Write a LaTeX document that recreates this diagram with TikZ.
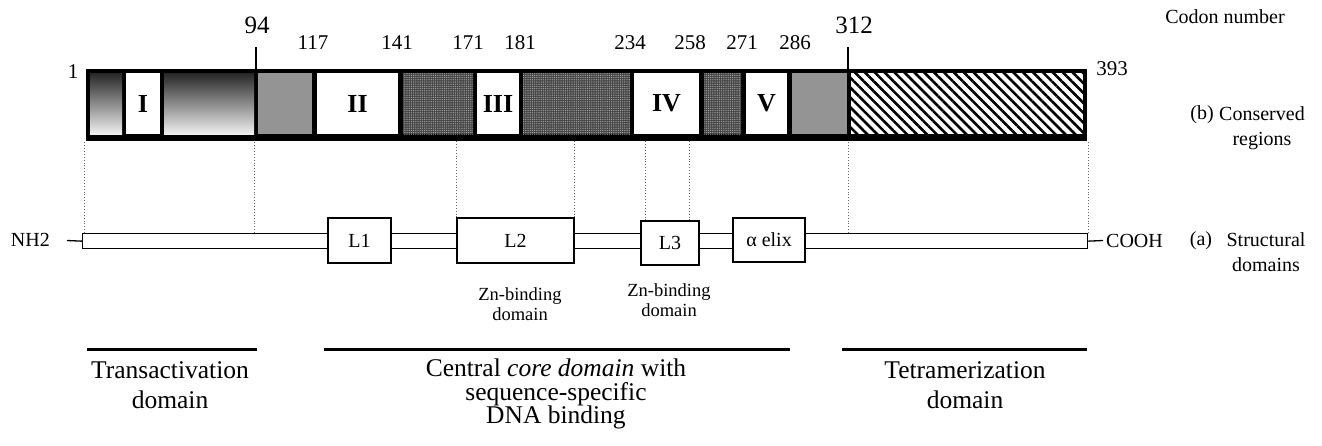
\documentclass[tikz,border=0pt]{standalone}
\usepackage{fontspec}
\setmainfont{Liberation Serif}
\usetikzlibrary{patterns.meta,calc}
\newcommand\fsNum{\fontsize{21}{25}\selectfont}
\newcommand\fsBig{\fontsize{25}{30}\selectfont}
\newcommand\fsRom{\fontsize{26}{30}\selectfont\bfseries}
\newcommand\fsLab{\fontsize{20}{25}\selectfont}
\newcommand\fsZn{\fontsize{18.5}{20}\selectfont}
\newcommand\fsDom{\fontsize{25.5}{30}\selectfont}
\newcommand\fsCen{\fontsize{25.5}{23.5}\selectfont}
\begin{document}
\begin{tikzpicture}[x=1pt,y=-1pt,
 cell/.style={inner sep=0pt, minimum height=61pt, anchor=center, font=\fsRom},
 whitecell/.style={cell, fill=white},
 gradcell/.style={cell, top color=black!85, bottom color=black!6},
 graycell/.style={cell, fill=black!42},
 dotcell/.style={cell, preaction={fill=black!72}, pattern={Dots[radius=0.6pt,distance=2.2pt]}, pattern color=white!70!black},
 hatchcell/.style={cell, preaction={fill=white}, pattern={Lines[angle=-45,distance=7pt,line width=2.6pt]}, pattern color=black},
 sbox/.style={draw, line width=1.3pt, fill=white, inner sep=0pt, minimum height=44pt, font=\fsLab},
 guide/.style={dotted, line width=0.9pt, black!60},
 dline/.style={line width=3pt},
 thin/.style={line width=1.3pt},
 num/.style={font=\fsNum, inner sep=0pt},
 bignum/.style={font=\fsBig, inner sep=0pt},
 lab/.style={font=\fsLab, inner sep=0pt},
]
\useasboundingbox (0,0) rectangle (1322,445);

% conserved regions bar
\node[fill=black, inner sep=0pt, minimum width=1001pt, minimum height=72pt, anchor=north west] (bar) at (86,69) {};
\node[gradcell, minimum width=32pt] (g1) at (106,103.5) {};
\node[whitecell, minimum width=34pt] (r1) at (143,103.5) {I};
\node[gradcell, minimum width=90pt] (g2) at (209,103.5) {};
\node[graycell, minimum width=54pt] (gr1) at (285,103.5) {};
\node[whitecell, minimum width=81pt] (r2) at (357.5,103.5) {II};
\node[dotcell, minimum width=70pt] (d1) at (438,103.5) {};
\node[whitecell, minimum width=42pt] (r3) at (498,103.5) {III};
\node[dotcell, minimum width=107pt] (d2) at (576.5,103.5) {};
\node[whitecell, minimum width=65pt] (r4) at (666.5,103.5) {IV};
\node[dotcell, minimum width=37pt] (d3) at (722.5,103.5) {};
\node[whitecell, minimum width=41pt] (r5) at (766.5,103.5) {V};
\node[graycell, minimum width=55pt] (gr2) at (819.5,103.5) {};
\node[hatchcell, minimum width=232pt] (hz) at (967,103.5) {};

% ticks and codon numbers
\coordinate (t94) at (256,47);
\coordinate (t312) at (848,47);
\draw[thin] (t94) -- (t94 |- bar.north);
\draw[thin] (t312) -- (t312 |- bar.north);
\node[bignum] (n94) at (257,25) {94};
\node[bignum] (n312) at (854,25) {312};
\node[num] (n117) at (313,43) {117};
\node[num] (n141) at (397,43) {141};
\node[num] (n171) at (468,43) {171};
\node[num] (n181) at (520,43) {181};
\node[num] (n234) at (630,43) {234};
\node[num] (n258) at (690,43) {258};
\node[num] (n271) at (742,43) {271};
\node[num] (n286) at (795,43) {286};
\node[num] (n1) at (73,72) {1};
\node[num] (n393) at (1112,69) {393};

% structural domains
\node[draw, thin, inner sep=0pt, minimum width=1005pt, minimum height=15pt, anchor=north west] (chain) at (82,233) {};
\node[sbox, minimum width=63pt, minimum height=45pt] (L1) at (359.5,240.5) {L1};
\node[sbox, minimum width=117pt, minimum height=45pt] (L2) at (515.5,240.5) {L2};
\node[sbox, minimum width=58pt] (L3) at (670,243) {L3};
\node[sbox, minimum width=72pt] (helix) at (769,240) {α elix};

\node[lab, anchor=east] (nh2) at (50,240) {NH2};
\coordinate (nhstub) at (67,240.5);
\draw[thin] (nhstub) -- (chain.west);
\node[lab, anchor=west] (cooh) at (1106,241) {COOH};
\coordinate (costub) at (1103,240.5);
\draw[thin] (chain.east) -- (costub);

% dotted guides
\coordinate (c94) at (254,233);
\coordinate (c312) at (848,233);
\draw[guide] ([xshift=2pt]chain.north west) -- ([xshift=2pt]chain.north west |- bar.south);
\draw[guide] (c94) -- (c94 |- bar.south);
\draw[guide] (L2.north west) -- (L2.north west |- bar.south);
\draw[guide] (L2.north east) -- (L2.north east |- bar.south);
\draw[guide] ([xshift=5pt]L3.north west) -- ([xshift=5pt]L3.north west |- bar.south);
\draw[guide] ([xshift=-10pt]L3.north east) -- ([xshift=-10pt]L3.north east |- bar.south);
\draw[guide] (c312) -- (c312 |- bar.south);
\draw[guide] (chain.north east) -- (chain.north east |- bar.south);

% right labels
\node[lab] (codon) at (1225,17) {Codon number};
\node[lab] (blab) at (1202,115) {(b)};
\node[lab, align=center] (cons) at (1262,128) {Conserved\\regions};
\node[lab] (alab) at (1201,241) {(a)};
\node[lab, align=center] (struc) at (1266,252) {Structural\\domains};

% Zn-binding
\node[font=\fsZn, align=center, inner sep=0pt] (zn1) at (520,304) {Zn-binding\\domain};
\node[font=\fsZn, align=center, inner sep=0pt] (zn2) at (669,300) {Zn-binding\\domain};

% functional domains
\coordinate (ta1) at (87,349); \coordinate (ta2) at (257,349);
\coordinate (ce1) at (324,349); \coordinate (ce2) at (790,349);
\coordinate (tt1) at (842,349); \coordinate (tt2) at (1087,349);
\draw[dline] (ta1) -- (ta2);
\draw[dline] (ce1) -- (ce2);
\draw[dline] (tt1) -- (tt2);
\node[font=\fsDom, align=center, inner sep=0pt] (trans) at (170,385) {Transactivation\\domain};
\node[font=\fsCen, align=center, inner sep=0pt] (core) at (556,394) {Central \textit{core domain} with\\sequence-specific\\DNA binding};
\node[font=\fsDom, align=center, inner sep=0pt] (tetra) at (965,385) {Tetramerization\\domain};
\end{tikzpicture}
\end{document}
